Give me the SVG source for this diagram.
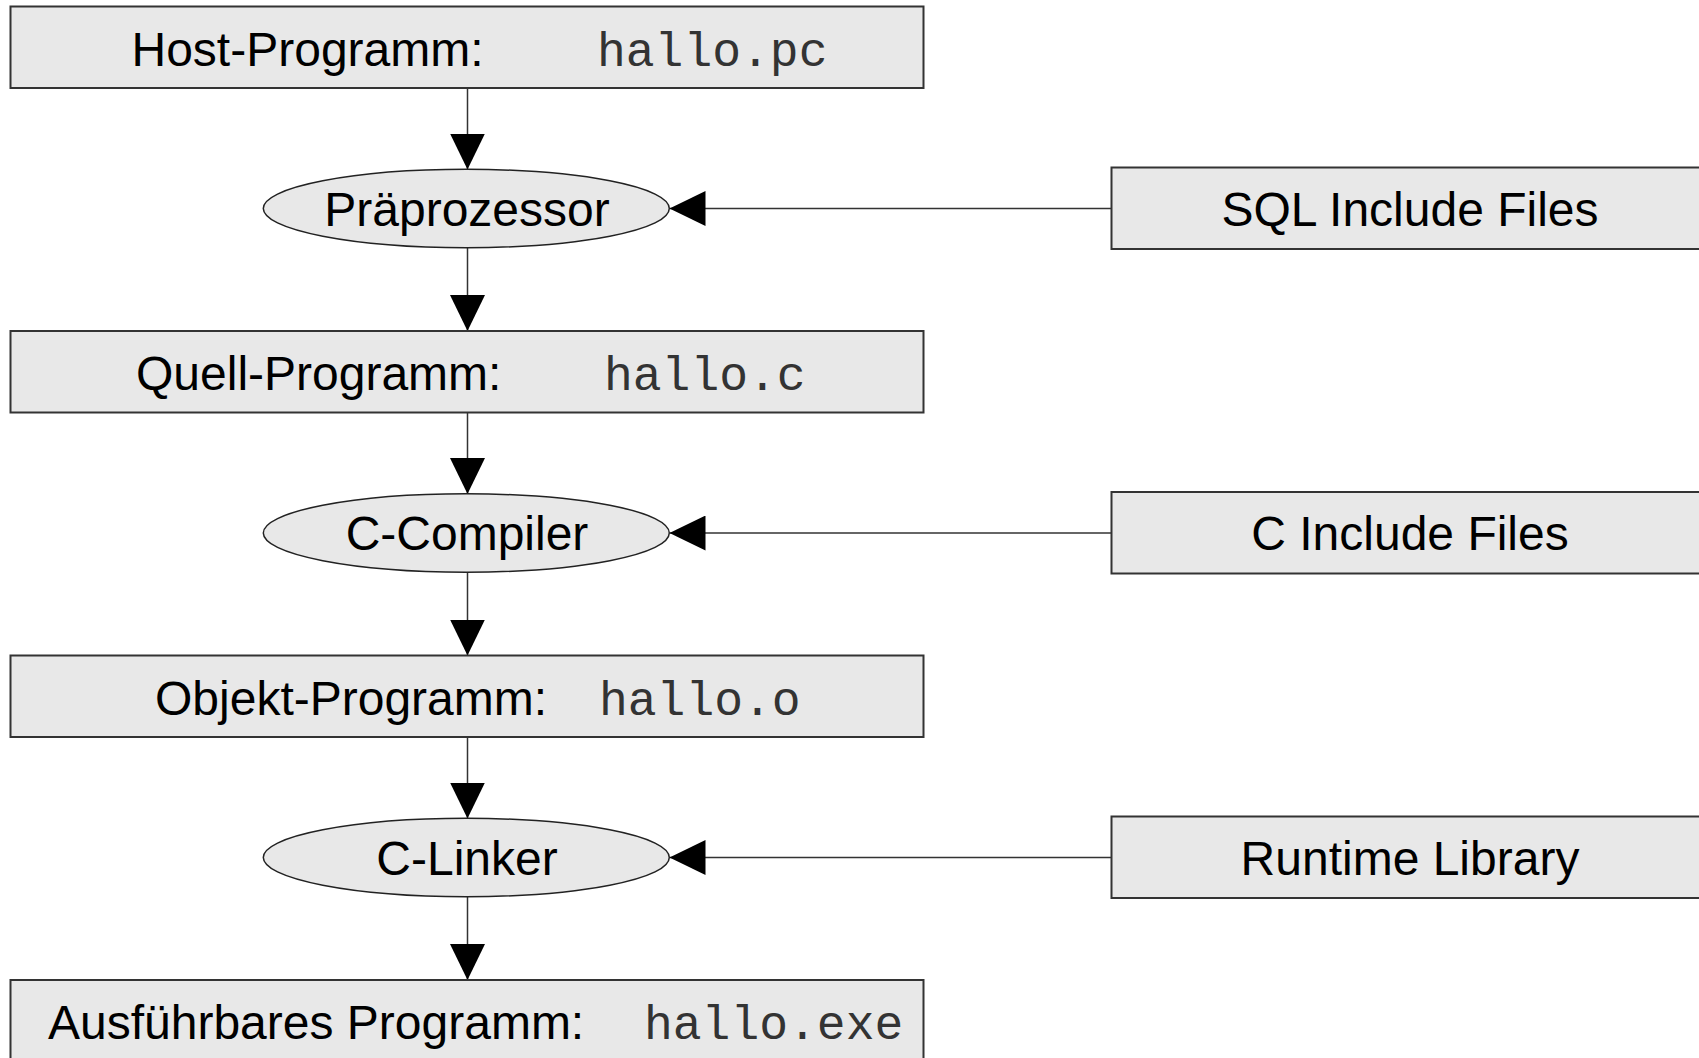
<svg xmlns="http://www.w3.org/2000/svg" width="1699" height="1058" viewBox="0 0 1699 1058">
<style>
.box{fill:#e8e8e8;stroke:#333;stroke-width:2}
.ell{fill:#e8e8e8;stroke:#222;stroke-width:1.5}
.lbl{font-family:"Liberation Sans",Arial,sans-serif;font-size:48px;fill:#000}
.mono{font-family:"Liberation Mono","Courier New",monospace;font-size:48px;fill:#333}
.mid{text-anchor:middle}
.edge{stroke:#333;stroke-width:1.5;fill:none;marker-end:url(#ah)}
</style>
<defs>
<marker id="ah" markerUnits="userSpaceOnUse" markerWidth="36" markerHeight="35" refX="36" refY="17.5" orient="auto">
<path d="M0,0 L36,17.5 L0,35 Z" fill="#000"/>
</marker>
</defs>
<rect width="1699" height="1058" fill="#fff"/>
<g id="connectors">
<line class="edge" x1="467.5" y1="88" x2="467.5" y2="169.5"/>
<line class="edge" x1="467.5" y1="248" x2="467.5" y2="331"/>
<line class="edge" x1="467.5" y1="412" x2="467.5" y2="494"/>
<line class="edge" x1="467.5" y1="572" x2="467.5" y2="655.5"/>
<line class="edge" x1="467.5" y1="737" x2="467.5" y2="818.5"/>
<line class="edge" x1="467.5" y1="897" x2="467.5" y2="980"/>
<line class="edge" x1="1111.5" y1="208.5" x2="669.5" y2="208.5"/>
<line class="edge" x1="1111.5" y1="533" x2="669.5" y2="533"/>
<line class="edge" x1="1111.5" y1="857.5" x2="669.5" y2="857.5"/>
</g>
<g id="host">
<rect class="box" x="10.5" y="6.5" width="913" height="81.5"/>
<text class="lbl" x="131.5" y="65.5">Host-Programm:</text>
<text class="mono" x="597" y="65.5">hallo.pc</text>
</g>
<g id="praeprozessor">
<ellipse class="ell" cx="466.3" cy="208.5" rx="203" ry="39.2"/>
<text class="lbl mid" x="467" y="225.5">Präprozessor</text>
</g>
<g id="sql">
<rect class="box" x="1111.5" y="167.5" width="600" height="81.5"/>
<text class="lbl mid" x="1410" y="225.5">SQL Include Files</text>
</g>
<g id="quell">
<rect class="box" x="10.5" y="331" width="913" height="81.5"/>
<text class="lbl" x="136" y="390">Quell-Programm:</text>
<text class="mono" x="604" y="390">hallo.c</text>
</g>
<g id="compiler">
<ellipse class="ell" cx="466.3" cy="533" rx="203" ry="39.2"/>
<text class="lbl mid" x="467" y="550">C-Compiler</text>
</g>
<g id="cinclude">
<rect class="box" x="1111.5" y="492" width="600" height="81.5"/>
<text class="lbl mid" x="1410" y="550">C Include Files</text>
</g>
<g id="objekt">
<rect class="box" x="10.5" y="655.5" width="913" height="81.5"/>
<text class="lbl" x="155" y="714.5">Objekt-Programm:</text>
<text class="mono" x="599" y="714.5">hallo.o</text>
</g>
<g id="linker">
<ellipse class="ell" cx="466.3" cy="857.5" rx="203" ry="39.2"/>
<text class="lbl mid" x="467" y="874.5">C-Linker</text>
</g>
<g id="runtime">
<rect class="box" x="1111.5" y="816.5" width="600" height="81.5"/>
<text class="lbl mid" x="1410" y="874.5">Runtime Library</text>
</g>
<g id="exe">
<rect class="box" x="10.5" y="980" width="913" height="90"/>
<text class="lbl" x="48" y="1039">Ausführbares Programm:</text>
<text class="mono" x="644" y="1039">hallo.exe</text>
</g>
</svg>
